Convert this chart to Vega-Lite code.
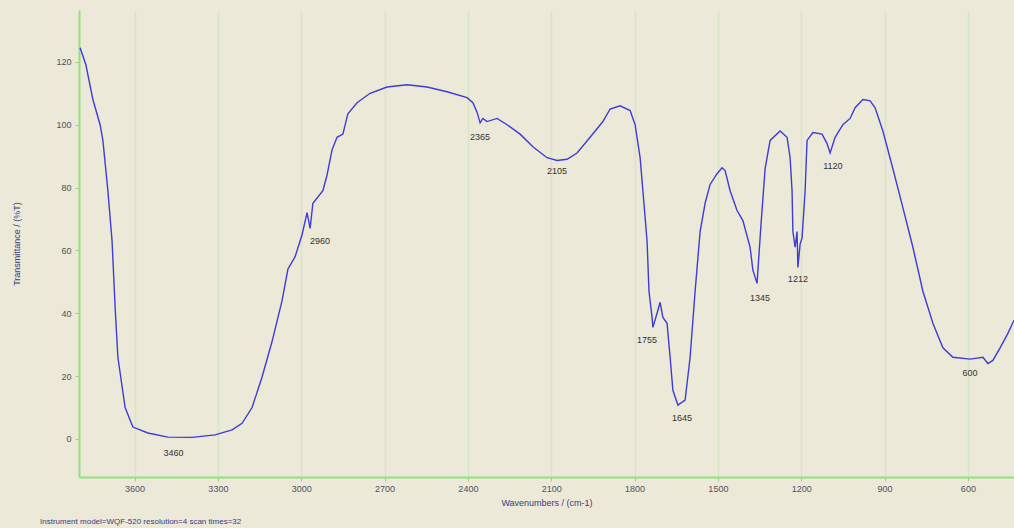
{
  "$schema": "https://vega.github.io/schema/vega-lite/v6.json",
  "width": 935,
  "height": 467,
  "autosize": {"type": "none"},
  "padding": {"left": 79, "top": 10, "right": 0, "bottom": 51},
  "background": "#ECE9D8",
  "title": {
    "text": "Instrument model=WQF-520 resolution=4 scan times=32",
    "orient": "bottom",
    "anchor": "start",
    "frame": "group",
    "dx": -39,
    "offset": 11,
    "font": "Liberation Sans",
    "fontSize": 8,
    "fontWeight": "normal",
    "color": "#3a3a80"
  },
  "config": {
    "view": {"stroke": null},
    "font": "Liberation Sans"
  },
  "datasets": {
    "spectrum": [
      {"wn": 3796, "t": 124.5}, {"wn": 3775, "t": 119}, {"wn": 3750, "t": 108}, {"wn": 3724, "t": 100},
      {"wn": 3714, "t": 95}, {"wn": 3696, "t": 79}, {"wn": 3681, "t": 63}, {"wn": 3670, "t": 42},
      {"wn": 3660, "t": 26}, {"wn": 3634, "t": 10}, {"wn": 3606, "t": 3.8}, {"wn": 3552, "t": 1.9},
      {"wn": 3480, "t": 0.6}, {"wn": 3393, "t": 0.5}, {"wn": 3310, "t": 1.3}, {"wn": 3249, "t": 2.9},
      {"wn": 3213, "t": 5}, {"wn": 3177, "t": 10}, {"wn": 3141, "t": 19.7}, {"wn": 3105, "t": 31},
      {"wn": 3069, "t": 44}, {"wn": 3048, "t": 54}, {"wn": 3022, "t": 58}, {"wn": 2997, "t": 65},
      {"wn": 2979, "t": 72}, {"wn": 2968, "t": 67}, {"wn": 2958, "t": 75}, {"wn": 2922, "t": 79},
      {"wn": 2907, "t": 84}, {"wn": 2889, "t": 92}, {"wn": 2871, "t": 96}, {"wn": 2850, "t": 97},
      {"wn": 2832, "t": 103.5}, {"wn": 2799, "t": 107}, {"wn": 2752, "t": 110}, {"wn": 2691, "t": 112},
      {"wn": 2619, "t": 112.7}, {"wn": 2547, "t": 112}, {"wn": 2475, "t": 110.5}, {"wn": 2403, "t": 108.6},
      {"wn": 2382, "t": 107}, {"wn": 2367, "t": 104}, {"wn": 2356, "t": 100.6}, {"wn": 2346, "t": 102},
      {"wn": 2331, "t": 101}, {"wn": 2295, "t": 102}, {"wn": 2259, "t": 100}, {"wn": 2212, "t": 97},
      {"wn": 2166, "t": 93}, {"wn": 2115, "t": 89.5}, {"wn": 2079, "t": 88.6}, {"wn": 2043, "t": 89},
      {"wn": 2007, "t": 91}, {"wn": 1960, "t": 96}, {"wn": 1914, "t": 101}, {"wn": 1888, "t": 105},
      {"wn": 1852, "t": 106}, {"wn": 1816, "t": 104.5}, {"wn": 1798, "t": 100}, {"wn": 1780, "t": 89.5},
      {"wn": 1770, "t": 79}, {"wn": 1755, "t": 63}, {"wn": 1748, "t": 47}, {"wn": 1737, "t": 38.7},
      {"wn": 1734, "t": 35.5}, {"wn": 1719, "t": 40}, {"wn": 1708, "t": 43.5}, {"wn": 1698, "t": 38.7},
      {"wn": 1683, "t": 36.8}, {"wn": 1672, "t": 26}, {"wn": 1662, "t": 15.5}, {"wn": 1644, "t": 10.8},
      {"wn": 1618, "t": 12.4}, {"wn": 1600, "t": 26}, {"wn": 1582, "t": 47}, {"wn": 1564, "t": 66},
      {"wn": 1546, "t": 75}, {"wn": 1528, "t": 81}, {"wn": 1503, "t": 84.4}, {"wn": 1485, "t": 86.3},
      {"wn": 1474, "t": 85.4}, {"wn": 1456, "t": 79}, {"wn": 1431, "t": 72.7}, {"wn": 1410, "t": 69.5},
      {"wn": 1384, "t": 61}, {"wn": 1374, "t": 53.7}, {"wn": 1359, "t": 49.5}, {"wn": 1345, "t": 68},
      {"wn": 1330, "t": 86}, {"wn": 1312, "t": 95}, {"wn": 1276, "t": 98}, {"wn": 1251, "t": 96},
      {"wn": 1240, "t": 89.5}, {"wn": 1233, "t": 79}, {"wn": 1230, "t": 66}, {"wn": 1222, "t": 61},
      {"wn": 1215, "t": 66}, {"wn": 1212, "t": 54.6}, {"wn": 1204, "t": 62}, {"wn": 1197, "t": 64},
      {"wn": 1186, "t": 79}, {"wn": 1179, "t": 95}, {"wn": 1158, "t": 97.5}, {"wn": 1125, "t": 97},
      {"wn": 1107, "t": 94}, {"wn": 1096, "t": 91}, {"wn": 1078, "t": 96}, {"wn": 1050, "t": 100},
      {"wn": 1024, "t": 102}, {"wn": 1006, "t": 105.4}, {"wn": 978, "t": 108}, {"wn": 952, "t": 107.6},
      {"wn": 934, "t": 105.4}, {"wn": 906, "t": 98}, {"wn": 870, "t": 86}, {"wn": 834, "t": 73.6},
      {"wn": 798, "t": 61}, {"wn": 762, "t": 47}, {"wn": 726, "t": 36.8}, {"wn": 690, "t": 29},
      {"wn": 654, "t": 26}, {"wn": 592, "t": 25.4}, {"wn": 546, "t": 26}, {"wn": 528, "t": 24},
      {"wn": 510, "t": 25}, {"wn": 484, "t": 29}, {"wn": 456, "t": 33.6}, {"wn": 434, "t": 37.8}
    ],
    "peaks": [
      {"wn": 3460, "t": -4.5, "label": "3460"},
      {"wn": 2932, "t": 63, "label": "2960"},
      {"wn": 2356, "t": 96, "label": "2365"},
      {"wn": 2079, "t": 85.4, "label": "2105"},
      {"wn": 1755, "t": 31.4, "label": "1755"},
      {"wn": 1629, "t": 6.7, "label": "1645"},
      {"wn": 1348, "t": 45, "label": "1345"},
      {"wn": 1212, "t": 51, "label": "1212"},
      {"wn": 1086, "t": 87, "label": "1120"},
      {"wn": 592, "t": 21, "label": "600"}
    ]
  },
  "encoding": {
    "x": {
      "field": "wn",
      "type": "quantitative",
      "scale": {"domain": [434, 3800], "reverse": true, "nice": false, "zero": false},
      "axis": {
        "title": "Wavenumbers / (cm-1)",
        "values": [3600, 3300, 3000, 2700, 2400, 2100, 1800, 1500, 1200, 900, 600],
        "format": "d",
        "domainColor": "#92e27c",
        "domainWidth": 2,
        "tickColor": "#9fcf8f",
        "tickSize": 4,
        "labelFontSize": 9,
        "labelColor": "#50505e",
        "labelPadding": 3,
        "grid": true,
        "gridColor": "#d6e7c6",
        "gridWidth": 1.5,
        "titleFontSize": 9,
        "titleFontWeight": "normal",
        "titleColor": "#3a3a80",
        "titlePadding": 5
      }
    },
    "y": {
      "field": "t",
      "type": "quantitative",
      "scale": {"domain": [-12.1, 136.5], "nice": false, "zero": false},
      "axis": {
        "title": "Transmittance / (%T)",
        "values": [0, 20, 40, 60, 80, 100, 120],
        "domainColor": "#92e27c",
        "domainWidth": 2,
        "tickColor": "#9fcf8f",
        "tickSize": 4,
        "labelFontSize": 9,
        "labelColor": "#50505e",
        "labelPadding": 4,
        "grid": false,
        "titleFontSize": 9,
        "titleFontWeight": "normal",
        "titleColor": "#3a3a80",
        "titleX": -58
      }
    }
  },
  "layer": [
    {
      "data": {"name": "spectrum"},
      "mark": {"type": "line", "color": "#3c3cd6", "strokeWidth": 1.4, "clip": true}
    },
    {
      "data": {"name": "peaks"},
      "mark": {"type": "text", "fontSize": 9, "color": "#333333", "font": "Liberation Sans"},
      "encoding": {"text": {"field": "label", "type": "nominal"}}
    }
  ]
}
